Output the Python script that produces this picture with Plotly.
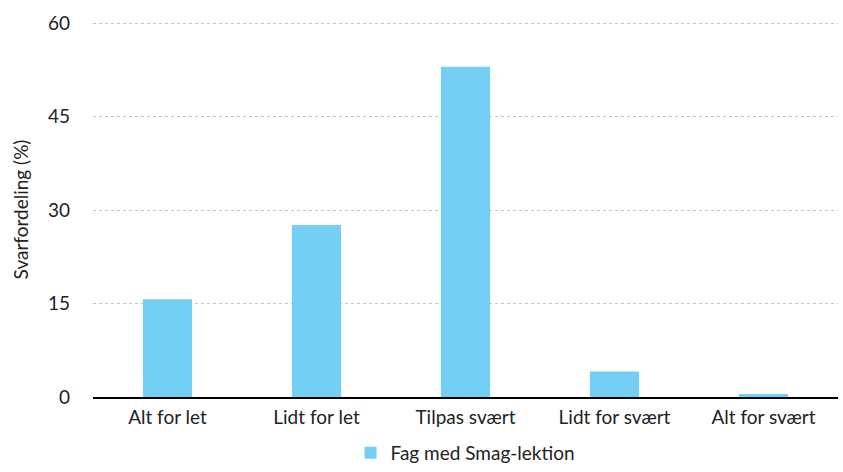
import plotly.graph_objects as go

categories = ["Alt for let", "Lidt for let", "Tilpas svært", "Lidt for svært", "Alt for svært"]
values = [15.7, 27.6, 53.0, 4.1, 0.5]
series_name = "Fag med Smag-lektion"
y_ticks = [0, 15, 30, 45, 60]

FONT = "Lato, 'Open Sans', sans-serif"

fig = go.Figure()
fig.add_trace(go.Bar(
    x=categories, y=values, name=series_name,
    marker=dict(color="#74cff5", line=dict(width=0)),
    width=0.33,
))

fig.update_layout(
    width=843, height=472,
    margin=dict(l=93, r=5, t=22, b=75),
    paper_bgcolor="white", plot_bgcolor="white",
    font=dict(family=FONT, size=19, color="#222222"),
    showlegend=True,
    legend=dict(orientation="h", x=0.5, xanchor="center",
                yref="container", y=-0.02, yanchor="bottom",
                font=dict(size=19, color="#222222")),
    xaxis=dict(
        showline=True, linecolor="black", linewidth=2,
        showgrid=False, ticks="", tickfont=dict(size=19),
        ticklabelstandoff=2,
    ),
    yaxis=dict(
        range=[0, 60.2], tickvals=y_ticks, ticktext=[str(v) for v in y_ticks],
        showgrid=True, gridcolor="#c4c4c4", griddash="dot", gridwidth=1,
        zeroline=False, showline=False, ticks="",
        tickfont=dict(size=19), ticklabelstandoff=22,
        title=dict(text="Svarfordeling (%)", font=dict(size=19), standoff=14),
    ),
)

fig.write_html("out.html")
